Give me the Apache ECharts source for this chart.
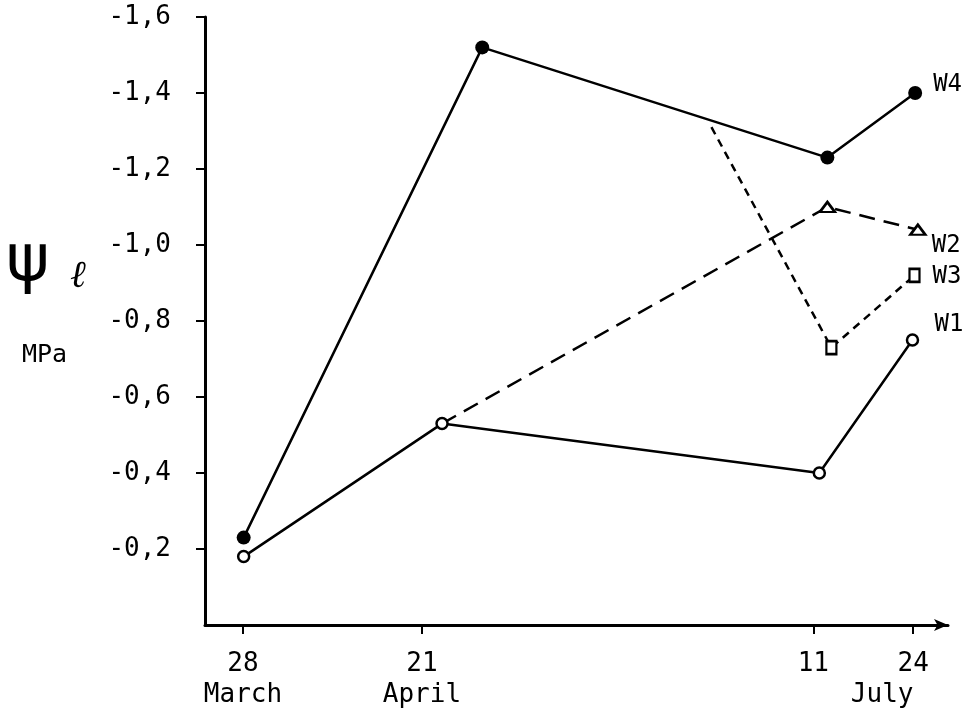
<!DOCTYPE html>
<html>
<head>
<meta charset="utf-8">
<script src="https://cdn.jsdelivr.net/npm/echarts@6/dist/echarts.min.js"></script>
<style>
  html, body { margin: 0; padding: 0; background: #fff; }
  #chart { width: 971px; height: 717px; }
</style>
</head>
<body>
<div id="chart"></div>
<script>
// x positions are read in axis units along the (non-linear) date axis:
// 0 = 28 March, 26.7 = 21 April, 85.1 = 11 July, 100 = 24 July
const tickPos    = [0, 26.7, 85.1, 100];
const tickDay    = ['28', '21', '11', '24'];
const tickMonth  = ['March', 'April', '', 'July'];
const yTicks     = [-0.2, -0.4, -0.6, -0.8, -1.0, -1.2, -1.4, -1.6];

// Leaf water potential (MPa)
const w4X = [0.1, 35.7, 87.2, 100.3];
const w4Y = [-0.23, -1.52, -1.23, -1.40];
const w1X = [0.1, 29.7, 86.0, 99.9];
const w1Y = [-0.18, -0.53, -0.40, -0.75];
// W2 and W3 branch off from an existing line (first point has no marker)
const w2X = [29.7, 87.2, 100.7];
const w2Y = [-0.53, -1.10, -1.04];
const w3X = [69.9, 87.8, 100.2];
const w3Y = [-1.31, -0.73, -0.92];

const seriesNames = ['W1', 'W2', 'W3', 'W4'];

const FONT = 'DejaVu Sans Mono';
const pair = (xs, ys) => xs.map((x, i) => [x, ys[i]]);
const branch = (xs, ys) => xs.map((x, i) => i === 0 ? { value: [x, ys[i]], symbol: 'none' } : [x, ys[i]]);

const chart = echarts.init(document.getElementById('chart'), null, { renderer: 'canvas' });

const labelStyle = { show: true, color: '#000', fontFamily: FONT, fontSize: 24 };

chart.setOption({
  animation: false,
  backgroundColor: '#fff',
  grid: { left: 205, right: 23, top: 17, bottom: 92, containLabel: false, outerBoundsMode: 'none' },
  xAxis: {
    type: 'value',
    min: -5.67,
    max: 105.2,
    splitLine: { show: false },
    axisLine: { show: true, onZero: false, symbol: ['none', 'arrow'], symbolSize: [9, 14],
                lineStyle: { color: '#000', width: 3 } },
    axisTick: { show: true, customValues: tickPos, length: 9, lineStyle: { color: '#000', width: 2 } },
    axisLabel: {
      show: true,
      customValues: tickPos,
      margin: 24,
      formatter: function (v) {
        let i = tickPos.findIndex(p => Math.abs(p - v) < 1e-6);
        if (i < 0) return '';
        let s = '{d|' + tickDay[i] + '}';
        if (tickMonth[i]) s += '\n' + (tickMonth[i] === 'July' ? '{j|' + tickMonth[i] + '}' : '{m|' + tickMonth[i] + '}');
        return s;
      },
      rich: {
        d: { fontFamily: FONT, fontSize: 26, color: '#000', lineHeight: 31 },
        m: { fontFamily: FONT, fontSize: 26, color: '#000', lineHeight: 31 },
        j: { fontFamily: FONT, fontSize: 26, color: '#000', lineHeight: 31, padding: [0, 62, 0, 0] }
      }
    }
  },
  yAxis: {
    type: 'value',
    inverse: true,
    min: -1.6,
    max: 0,
    interval: 0.2,
    splitLine: { show: false },
    axisLine: { show: true, onZero: false, lineStyle: { color: '#000', width: 3 } },
    axisTick: { show: true, customValues: yTicks, length: 9, lineStyle: { color: '#000', width: 2 } },
    axisLabel: {
      show: true,
      customValues: yTicks,
      margin: 34,
      color: '#000',
      fontFamily: FONT,
      fontSize: 26,
      formatter: v => (Math.abs(v) < 1e-9 ? '' : v.toFixed(1).replace('.', ','))
    }
  },
  graphic: [
    { type: 'text', left: 6, top: 230, style: { text: 'ψ', font: '66px "DejaVu Sans"', fill: '#000' } },
    { type: 'text', left: 70, top: 258, style: { text: 'ℓ', font: 'italic 38px "DejaVu Serif"', fill: '#000' } },
    { type: 'text', left: 22, top: 343, style: { text: 'MPa', font: '25px "DejaVu Sans Mono"', fill: '#000' } }
  ],
  series: [
    {
      name: seriesNames[0], type: 'line', data: pair(w1X, w1Y), z: 3,
      lineStyle: { color: '#000', width: 2.5 },
      symbol: 'circle', symbolSize: 11, showSymbol: true,
      itemStyle: { color: '#fff', borderColor: '#000', borderWidth: 2.5 },
      endLabel: Object.assign({}, labelStyle, { formatter: seriesNames[0], offset: [14, -15] })
    },
    {
      name: seriesNames[1], type: 'line', data: branch(w2X, w2Y), z: 2,
      lineStyle: { color: '#000', width: 2.5, type: [16, 9] },
      symbol: 'triangle', symbolSize: [15, 10],
      itemStyle: { color: '#fff', borderColor: '#000', borderWidth: 2.5 },
      endLabel: Object.assign({}, labelStyle, { formatter: seriesNames[1], offset: [6, 16] })
    },
    {
      name: seriesNames[2], type: 'line', data: branch(w3X, w3Y), z: 2,
      lineStyle: { color: '#000', width: 2.5, type: [8, 6] },
      symbol: 'rect', symbolSize: [10, 13],
      itemStyle: { color: '#fff', borderColor: '#000', borderWidth: 2.5 },
      endLabel: Object.assign({}, labelStyle, { formatter: seriesNames[2], offset: [10, 1] })
    },
    {
      name: seriesNames[3], type: 'line', data: pair(w4X, w4Y), z: 4,
      lineStyle: { color: '#000', width: 2.5 },
      symbol: 'circle', symbolSize: 14,
      itemStyle: { color: '#000', borderColor: '#000', borderWidth: 0 },
      endLabel: Object.assign({}, labelStyle, { formatter: seriesNames[3], offset: [10, -8] })
    }
  ]
});
</script>
</body>
</html>
